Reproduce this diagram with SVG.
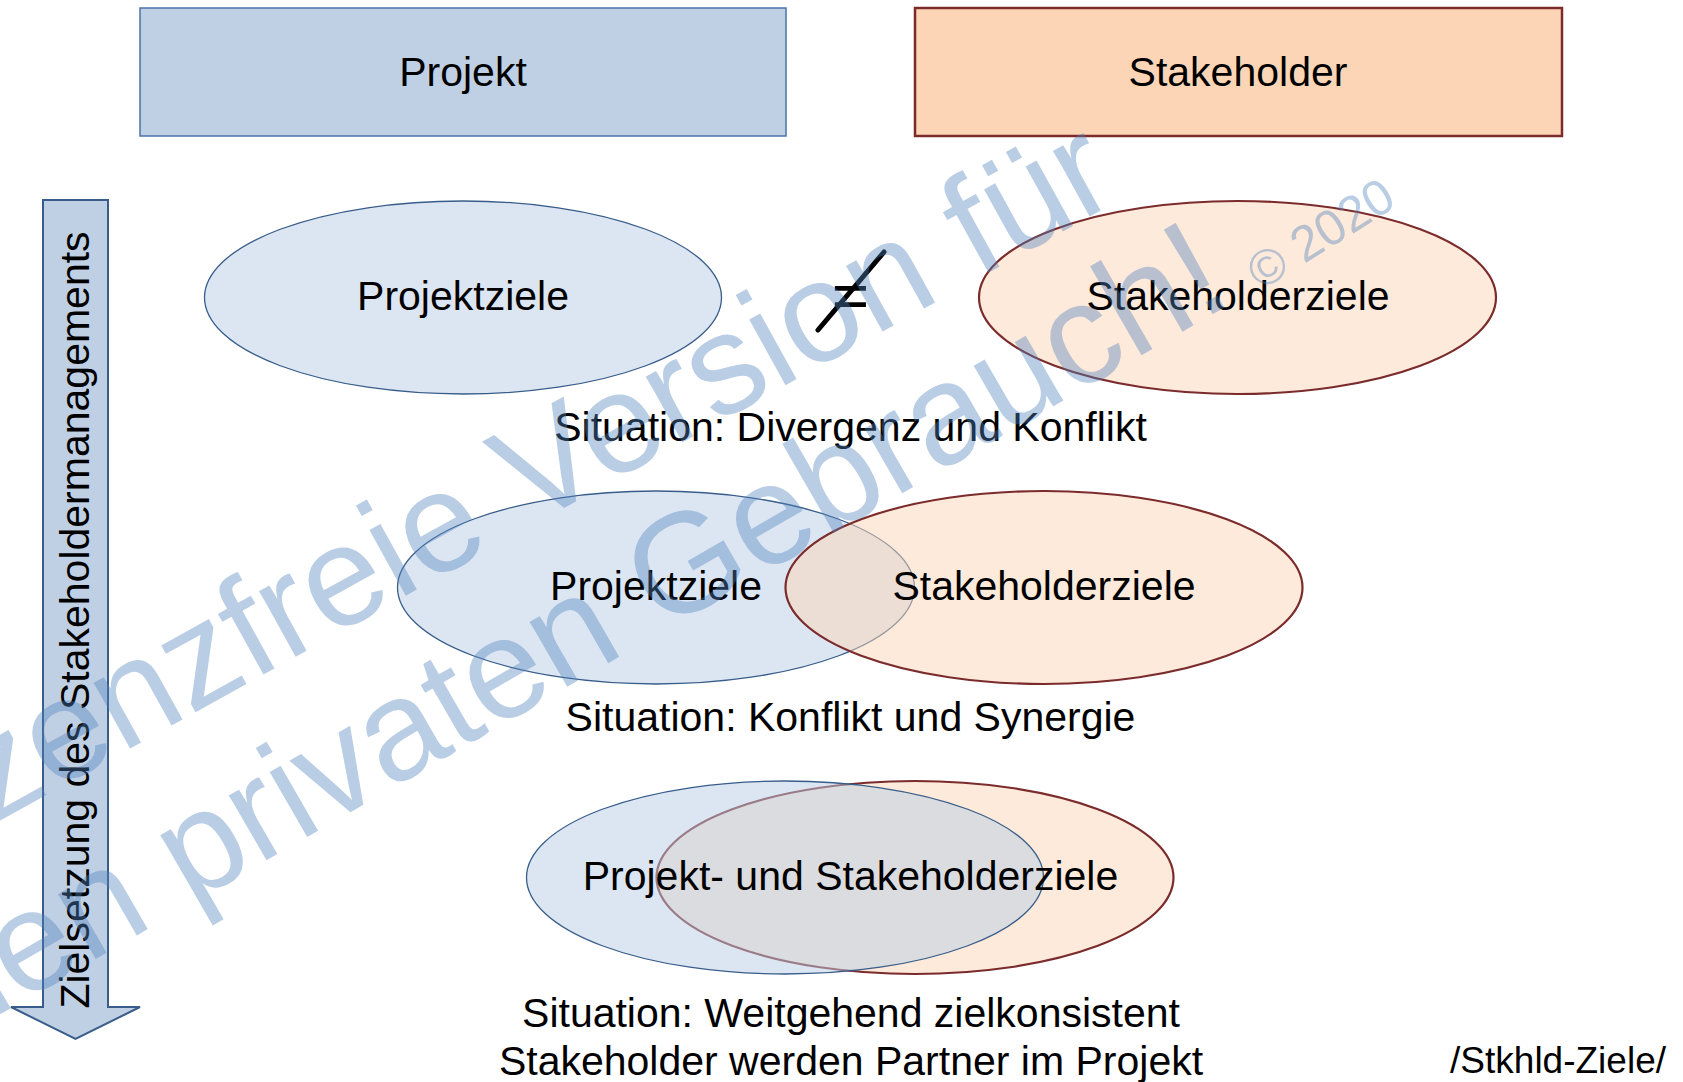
<svg xmlns="http://www.w3.org/2000/svg" width="1683" height="1082" viewBox="0 0 1683 1082">
  <style>
    .t { font-family: "Liberation Sans", Arial, sans-serif; font-size: 41px; fill: #000; text-anchor: middle; }
    .pj { fill: #B9CDE5; fill-opacity: 0.5; stroke: #385D8A; stroke-width: 1.3; }
    .sh { fill: #FCD5B5; fill-opacity: 0.5; stroke: #7B2B2B; stroke-width: 2.2; }
    .wm { font-family: "Liberation Sans", Arial, sans-serif; fill: #4F81BD; fill-opacity: 0.4; }
  </style>
  <rect width="1683" height="1082" fill="#fff"/>

  <!-- header boxes -->
  <g id="projekt">
    <rect x="140" y="8" width="646" height="128" fill="#C0D0E4" stroke="#4A72A6" stroke-width="1.5"/>
    <text class="t" x="463" y="86">Projekt</text>
  </g>
  <g id="stakeholder">
    <rect x="915" y="8" width="647" height="128" fill="#FBD5B6" stroke="#7B2B2B" stroke-width="2.5"/>
    <text class="t" x="1238" y="86">Stakeholder</text>
  </g>

  <!-- vertical arrow -->
  <g id="zielsetzung">
    <polygon points="43,200 108,200 108,1007 140,1007 75.5,1039 11,1007 43,1007" fill="#C0D0E4" stroke="#385D8A" stroke-width="2" stroke-linejoin="miter"/>
    <text class="t" transform="translate(89 620) rotate(-90)">Zielsetzung des Stakeholdermanagements</text>
  </g>

  <!-- row 1: divergence -->
  <g id="row1-projektziele">
    <ellipse class="pj" cx="463" cy="297.5" rx="258.5" ry="96.5"/>
    <text class="t" x="463" y="310">Projektziele</text>
  </g>
  <g id="row1-stakeholderziele">
    <ellipse class="sh" cx="1237.5" cy="297.5" rx="258.5" ry="96.5"/>
    <text class="t" x="1238" y="310">Stakeholderziele</text>
  </g>
  <g id="not-equal">
    <text x="850.5" y="318" text-anchor="middle" font-family="Liberation Sans, Arial, sans-serif" font-size="64">=</text>
    <line x1="818" y1="330" x2="884" y2="252" stroke="#000" stroke-width="5" stroke-linecap="round"/>
  </g>
  <text class="t" x="850.5" y="441">Situation: Divergenz und Konflikt</text>

  <!-- row 2: partial overlap -->
  <g id="row2-projektziele">
    <ellipse class="pj" cx="656" cy="587.5" rx="258.5" ry="96.5"/>
    <text class="t" x="656" y="600">Projektziele</text>
  </g>
  <g id="row2-stakeholderziele">
    <ellipse class="sh" cx="1044" cy="587.5" rx="258.5" ry="96.5"/>
    <text class="t" x="1044" y="600">Stakeholderziele</text>
  </g>
  <text class="t" x="850.5" y="731">Situation: Konflikt und Synergie</text>

  <!-- row 3: large overlap -->
  <g id="row3-ziele">
    <ellipse class="sh" cx="915" cy="877.5" rx="258.5" ry="96.5"/>
    <ellipse class="pj" cx="785" cy="877.5" rx="258.5" ry="96.5"/>
    <text class="t" x="850.5" y="890">Projekt- und Stakeholderziele</text>
  </g>
  <text class="t" x="851" y="1027">Situation: Weitgehend zielkonsistent</text>
  <text class="t" x="851" y="1075">Stakeholder werden Partner im Projekt</text>

  <text x="1666" y="1073" text-anchor="end" font-family="Liberation Sans, Arial, sans-serif" font-size="37">/Stkhld-Ziele/</text>

  <!-- licence watermark -->
  <g id="watermark" class="wm">
    <text font-size="142" text-anchor="middle" transform="translate(508 539) rotate(-29)">Lizenzfreie Version für</text>
    <text font-size="142" text-anchor="middle" transform="translate(593 672) rotate(-30)">den privaten Gebrauch!</text>
    <text font-size="50" transform="translate(1261 291) rotate(-32)">© 2020</text>
  </g>
</svg>
